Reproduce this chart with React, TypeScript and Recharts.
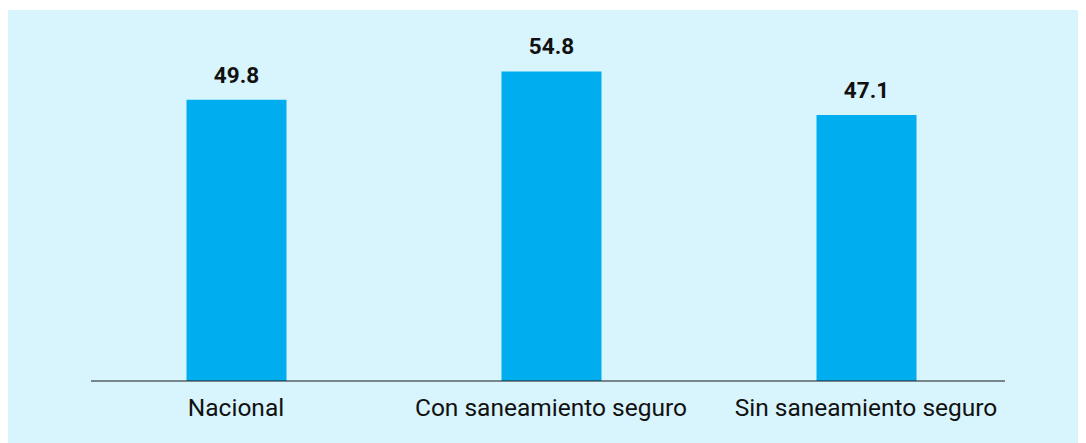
import { BarChart, Bar, XAxis, YAxis, LabelList } from 'recharts';

const categories = ['Nacional', 'Con saneamiento seguro', 'Sin saneamiento seguro'];
const values = [49.8, 54.8, 47.1];

const data = categories.map((name, i) => ({ name, value: values[i] }));

export default function App() {
  return (
    <div style={{ paddingTop: 2 }}>
      <div style={{ width: 1078, height: 433, background: '#D8F4FD' }}>
        <BarChart
          width={1078}
          height={433}
          data={data}
          margin={{ top: 32, right: 81, left: 83, bottom: 12 }}
        >
          <XAxis
            dataKey="name"
            height={50}
            padding={{ left: -12.5, right: -18.5 }}
            axisLine={{ stroke: '#1a1a1a', strokeWidth: 1 }}
            tickLine={false}
            tickSize={6}
            tickMargin={12}
            tick={{ fill: '#111', fontSize: 24.5, fontFamily: 'Roboto' }}
          />
          <YAxis hide domain={[0, 60]} />
          <Bar dataKey="value" fill="#00AEEF" barSize={100} isAnimationActive={false}>
            <LabelList
              dataKey="value"
              position="top"
              offset={17}
              formatter={(v: any) => Number(v).toFixed(1)}
              style={{ fill: '#111', fontSize: 22.5, fontWeight: 700, fontFamily: 'Roboto' }}
            />
          </Bar>
        </BarChart>
      </div>
    </div>
  );
}
